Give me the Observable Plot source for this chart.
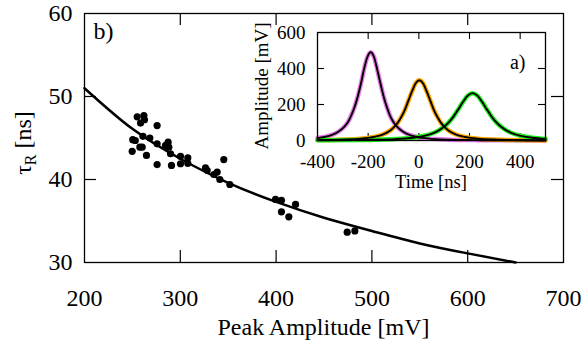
<!DOCTYPE html>
<html><head><meta charset="utf-8">
<script src="https://cdn.jsdelivr.net/npm/d3@7"></script>
<script src="https://cdn.jsdelivr.net/npm/@observablehq/plot@0.6"></script>
<style>
html,body{margin:0;padding:0;background:#fff;}
#wrap{position:relative;width:584px;height:341px;}
#wrap svg{position:absolute;left:0;top:0;overflow:visible;}
#wrap svg text{font-family:"Liberation Serif","Times New Roman",serif !important;}
</style></head><body><div id="wrap"></div>
<script>
// ---- main panel b): peak amplitude vs rise time ----
const peakAmp = [249.8,250.4,253,255,258.5,257.8,260.2,262,262.6,261,264.7,268.2,275.8,275.8,275.8,284.6,287.3,288,289.8,290.8,300.2,300.2,307.8,307.8,326.3,328,335,338.5,341.3,345.4,351.7,399.4,405.6,405.6,413.3,420.3,474.2,482.2];
const tauR    = [43.4,44.8,44.7,47.55,46.8,43.9,43.9,47.7,47.2,45.2,42.9,45.0,46.5,44.3,41.8,44.1,44.5,43.9,43.1,41.7,42.8,41.9,42.6,41.95,41.4,41.1,40.6,40.9,40.0,42.4,39.4,37.6,37.5,36.1,35.5,37.0,33.65,33.8];
const fitAmp  = [200,250,300,350,400,450,500,550,600,650];
const fitTau  = [51.0,46.1,42.5,39.6,37.3,35.4,33.8,32.3,31.1,30.0];
const mainXTicks = [200,300,400,500,600,700];
const mainYTicks = [30,40,50,60];

// ---- inset a): pulses ----
const purpleT = [-400,-394,-368,-343,-318,-292,-279,-267,-254,-241,-228,-216,-203,-190,-177,-165,-152,-139,-126,-114,-101,-88,-62,-37,-12,14,65,116,218,320,500];
const purpleA = [13.7,14.7,20.9,31.1,48.6,80,104.7,138.7,184.7,245,319.5,399,464,490,464,399,319.5,245,184.7,138.7,104.7,80,48.6,31.1,20.9,14.7,7.9,4.7,2.1,1.1,0.4];
const orangeT = [-400,-346,-288,-230,-201,-172,-143,-114,-100,-85,-71,-56,-42,-27,-13,2,17,31,46,60,75,89,104,118,147,176,205,234,292,350,500];
const orangeA = [2.2,3.2,5.4,10.0,14.3,21.3,33.2,54.7,71.6,94.8,126.3,167.5,218.4,272.7,317.2,335,317.2,272.7,218.4,167.5,126.3,94.8,71.6,54.7,33.2,21.3,14.3,10.0,5.4,3.2,1.2];
const greenT  = [-400,-244,-168,-92,-54,-16,22,60,79,98,117,136,155,174,193,212,231,250,269,288,307,326,345,364,402,440,478,500];
const greenA  = [1.1,2.5,4.2,7.9,11.2,16.7,26.1,42.9,56.2,74.4,99.2,131.5,171.5,214.1,249.1,263,249.1,214.1,171.5,131.5,99.2,74.4,56.2,42.9,26.1,16.7,11.2,9.2];
const insetXTicks = [-400,-200,0,200,400];
const insetYTicks = [0,200,400,600];
const pulseColors = ["#e87ae8","#ffa500","#1fef1f"];

const FONT = "Liberation Serif, Times New Roman, serif";
const W = 584, H = 341;
const mL = 84, mR = 21, mT = 13, mB = 79;
const innerW = W - mL - mR, innerH = H - mT - mB;

const pts = peakAmp.map((x, i) => ({x, y: tauR[i]}));
const fit = fitAmp.map((x, i) => ({x, y: fitTau[i]}));

const main = Plot.plot({
  width: W, height: H,
  marginLeft: mL, marginRight: mR, marginTop: mT, marginBottom: mB,
  style: {fontFamily: FONT, fontSize: "24px", color: "#000", background: "transparent", overflow: "visible"},
  x: {domain: [200, 700]},
  y: {domain: [30, 60]},
  marks: [
    Plot.axisX(mainXTicks, {tickSize: 0, tickPadding: 26, label: null, fontSize: 24, fill: "#000"}),
    Plot.axisY(mainYTicks, {tickSize: 0, tickPadding: 12, label: null, fontSize: 24, fill: "#000"}),
    Plot.tickX(mainXTicks.slice(1, -1), {x: d => d, insetTop: innerH - 12, strokeWidth: 1.2}),
    Plot.tickX(mainXTicks.slice(1, -1), {x: d => d, insetBottom: innerH - 12, strokeWidth: 1.2}),
    Plot.tickY(mainYTicks.slice(1, -1), {y: d => d, insetRight: innerW - 12, strokeWidth: 1.2}),
    Plot.tickY(mainYTicks.slice(1, -1), {y: d => d, insetLeft: innerW - 12, strokeWidth: 1.2}),
    Plot.line(fit, {x: "x", y: "y", curve: "natural", stroke: "#000", strokeWidth: 2.5}),
    Plot.dot(pts, {x: "x", y: "y", r: 3.6, fill: "#000", stroke: null}),
    Plot.frame({stroke: "#000", strokeWidth: 1.3}),
    Plot.text(["b)"], {frameAnchor: "top-left", dx: 9, dy: 8, lineAnchor: "top", textAnchor: "start", fontSize: 24, fill: "#000"})
  ]
});

// axis titles
const ms = d3.select(main);
ms.append("text").attr("x", mL + innerW / 2).attr("y", 335)
  .attr("text-anchor", "middle").attr("font-size", 24).attr("fill", "#000")
  .text("Peak Amplitude [mV]");
const yl = ms.append("text").attr("transform", "translate(31,143) rotate(-90)")
  .attr("text-anchor", "middle").attr("font-size", 24).attr("fill", "#000");
yl.append("tspan").text("τ");
yl.append("tspan").attr("font-size", 16).attr("dy", 5).text("R");
yl.append("tspan").attr("dy", -5).text(" [ns]");

// ---- inset ----
const iL = 317, iR = W - 545, iT = 32, iB = H - 140;
const iW = W - iL - iR, iH = H - iT - iB;
const series = [
  {t: purpleT, a: purpleA, c: pulseColors[0]},
  {t: orangeT, a: orangeA, c: pulseColors[1]},
  {t: greenT,  a: greenA,  c: pulseColors[2]}
].map(s => s.t.map((t, i) => ({t, a: s.a[i], c: s.c})));

const inset = Plot.plot({
  width: W, height: H,
  marginLeft: iL, marginRight: iR, marginTop: iT, marginBottom: iB,
  style: {fontFamily: FONT, fontSize: "19px", color: "#000", background: "transparent", overflow: "visible"},
  x: {domain: [-400, 500]},
  y: {domain: [0, 600]},
  marks: [
    Plot.axisX(insetXTicks, {tickSize: 0, tickPadding: 14, label: null, fontSize: 19, fill: "#000", tickFormat: d => String(d).replace("−", "-")}),
    Plot.axisY(insetYTicks, {tickSize: 0, tickPadding: 12, label: null, fontSize: 19, fill: "#000"}),
    Plot.tickX(insetXTicks.slice(1), {x: d => d, insetTop: iH - 7, strokeWidth: 1.1}),
    Plot.tickX(insetXTicks.slice(1), {x: d => d, insetBottom: iH - 7, strokeWidth: 1.1}),
    Plot.tickY(insetYTicks.slice(1, -1), {y: d => d, insetRight: iW - 7, strokeWidth: 1.1}),
    Plot.tickY(insetYTicks.slice(1, -1), {y: d => d, insetLeft: iW - 7, strokeWidth: 1.1}),
    ...series.map(s => Plot.line(s, {x: "t", y: "a", stroke: s[0].c, strokeWidth: 4.5, curve: "monotone-x"})),
    ...series.map(s => Plot.line(s, {x: "t", y: "a", stroke: "#000", strokeWidth: 1.9, curve: "monotone-x"})),
    Plot.frame({stroke: "#000", strokeWidth: 1.3}),
    Plot.text(["a)"], {frameAnchor: "top-right", dx: -20, dy: 22, lineAnchor: "top", textAnchor: "end", fontSize: 20, fill: "#000"})
  ]
});
const is = d3.select(inset);
is.append("text").attr("x", iL + iW / 2).attr("y", 188)
  .attr("text-anchor", "middle").attr("font-size", 18.5).attr("fill", "#000")
  .text("Time [ns]");
is.append("text").attr("transform", `translate(268,${iT + iH / 2}) rotate(-90)`)
  .attr("text-anchor", "middle").attr("font-size", 19).attr("fill", "#000")
  .text("Amplitude [mV]");

const wrap = document.getElementById("wrap");
wrap.appendChild(main);
wrap.appendChild(inset);
</script></body></html>
